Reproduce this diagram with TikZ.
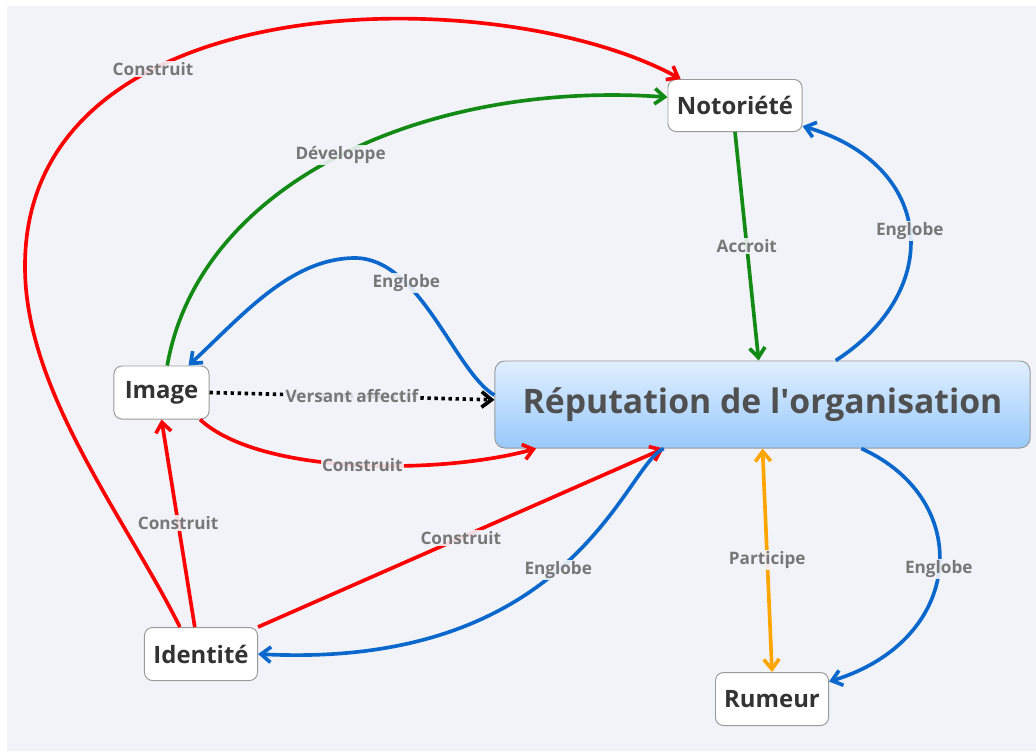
\documentclass[tikz,border=0pt]{standalone}
\usepackage{fontspec}
\setmainfont{Open Sans}
\usepackage{tikz}
\usetikzlibrary{positioning}
\usetikzlibrary{arrows.meta}
\usepackage{xcolor}

\definecolor{bgGray}{HTML}{F2F3F9}
\definecolor{boxGray}{HTML}{9A9A9A}
\definecolor{nodeText}{HTML}{333333}
\definecolor{mainText}{HTML}{505050}
\definecolor{labelGray}{HTML}{777777}
\definecolor{mainTop}{HTML}{E0EFFF}
\definecolor{mainBottom}{HTML}{98C9FB}
\definecolor{myRed}{HTML}{FF0000}
\definecolor{myGreen}{HTML}{138A13}
\definecolor{myBlue}{HTML}{0A68CC}
\definecolor{myOrange}{HTML}{FFA500}

\begin{document}
\begin{tikzpicture}[x=0.025cm, y=-0.025cm, >={Straight Barb[length=7pt,width=11pt]}]

\useasboundingbox (0,0) rectangle (1036,751);
\fill[bgGray] (7,6) rectangle (1036,751);

\tikzset
  {
    myBox/.style=    {draw=boxGray, line width=0.7pt, rounded corners=0.2cm, fill=white, inner sep=0pt, minimum height=1.325cm, text=nodeText, font=\fontsize{17}{20}\selectfont\bfseries},
    myMain/.style=   {draw=boxGray, line width=0.7pt, rounded corners=0.25cm, top color=mainTop, bottom color=mainBottom, inner sep=0pt, minimum width=13.375cm, minimum height=2.175cm, text=mainText, font=\fontsize{24}{29}\selectfont\bfseries},
    myLabel/.style=  {fill=bgGray, fill opacity=0.9, text opacity=1, text=labelGray, inner sep=1pt, font=\fontsize{12.2}{14}\selectfont\bfseries},
    myLink/.style=   {line width=2.6pt, ->}
  }

% nodes
{
\node[myMain] (repu) at (762.5,404.5) {Réputation de l\textquotesingle organisation};
\node[myBox, minimum width=3.35cm, minimum height=1.3cm] (noto) at (735,105.5) {Notoriété};
\node[myBox, minimum width=2.375cm] (image) at (161.5,392.5) {Image};
\node[myBox, minimum width=2.825cm] (ident) at (201,654) {Identité};
\node[myBox, minimum width=2.825cm] (rumeur) at (772,699) {Rumeur};
}

% red links
{
\draw[myLink, myRed] (ident.128) .. controls (125,517) and (24,390) .. (25,265)
  .. controls (26,-20) and (500,-20) .. node[myLabel, pos=0.33] (lblA) {Construit} (noto.154);

\draw[myLink, myRed] (image.-35) .. controls (260,475) and (440,475) .. node[myLabel, pos=0.52] (lblB) {Construit} (repu.191.6);

\draw[myLink, myRed] (ident.103) -- node[myLabel] (lblC) {Construit} (image.south);

\draw[myLink, myRed] (ident.north east) -- node[myLabel] (lblD) {Construit} (repu.204);
}

% green links
{
\draw[myLink, myGreen] (image.78) .. controls (200,180) and (430,80) .. node[myLabel] (lblE) {Développe} (noto.173);

\draw[myLink, myGreen] (noto.south) -- node[myLabel] (lblF) {Accroit} (repu.95);
}

% blue links
{
\draw[myLink, myBlue] (repu.31) .. controls (945,290) and (935,165) .. node[myLabel] (lblG) {Englobe} (noto.-17);

\draw[myLink, myBlue] (repu.178) .. controls (455,372) and (420,258) .. node[myLabel, pos=0.7] (lblH) {Englobe} (355,258)
  .. controls (290,258) and (240,318) .. (image.45);

\draw[myLink, myBlue] (repu.204) .. controls (625,465) and (575,670) .. node[myLabel, pos=0.52] (lblI) {Englobe} (ident.east);

\draw[myLink, myBlue] (repu.-24.5) .. controls (975,500) and (965,640) .. node[myLabel] (lblJ) {Englobe} (rumeur.17);
}

% other links
{
\draw[myLink, black, dash pattern=on 2.4pt off 2.6pt] (image.east) -- node[myLabel] (lblK) {Versant affectif} (repu.179);

\draw[myLink, myOrange, <->] (repu.south) -- node[myLabel] (lblL) {Participe} (rumeur.north);
}

\end{tikzpicture}
\end{document}
